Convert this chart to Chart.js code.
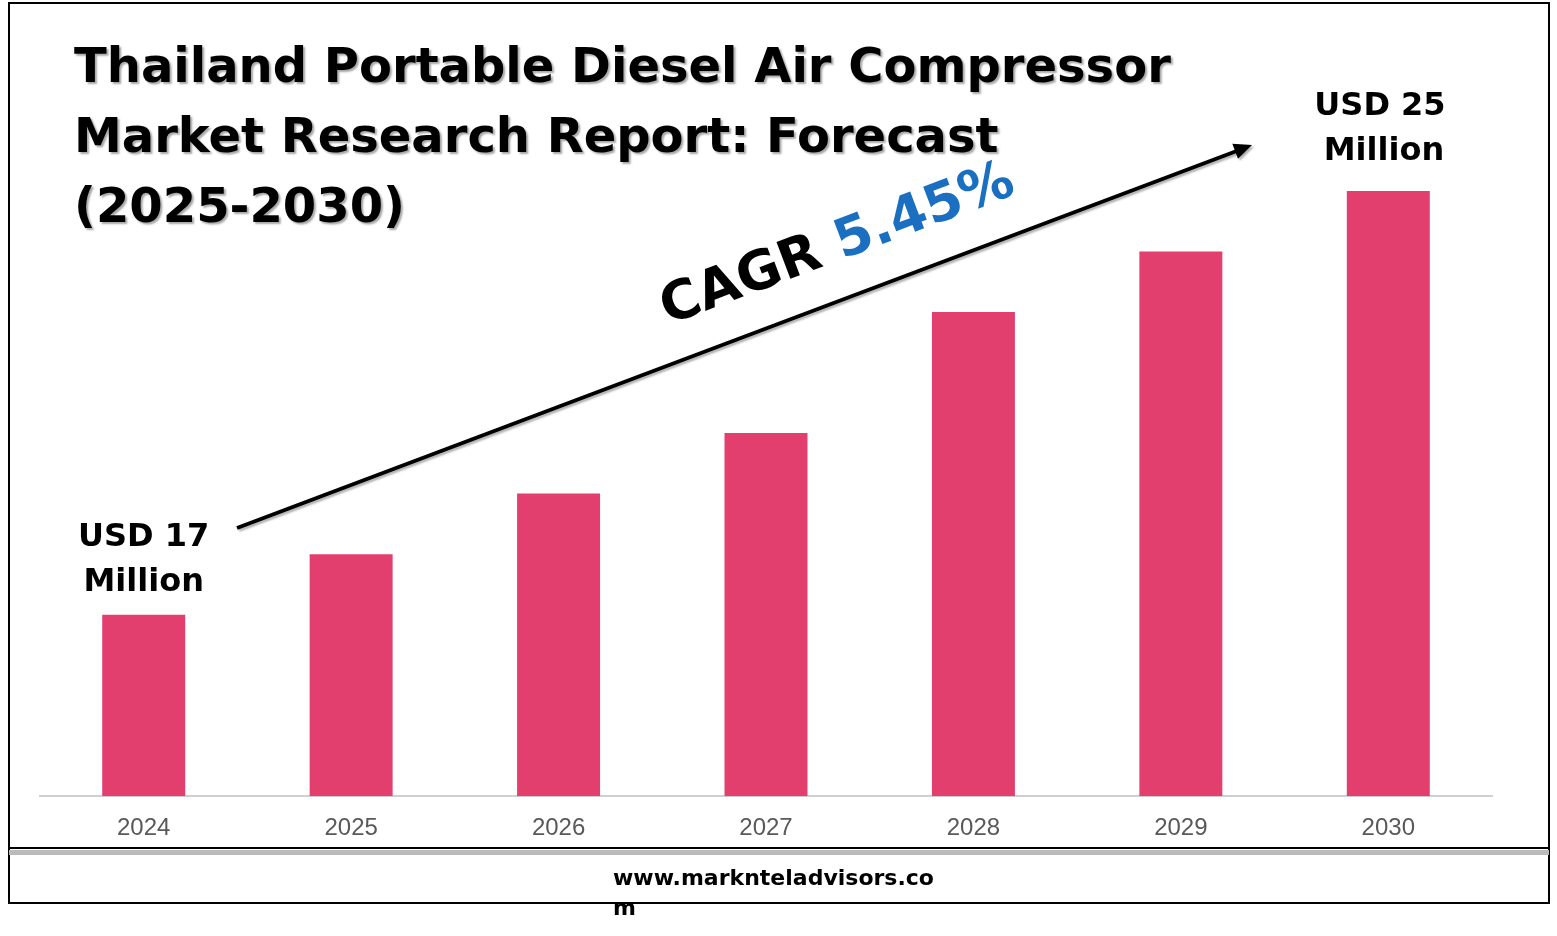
<!DOCTYPE html>
<html><head><meta charset="utf-8">
<script src="https://cdn.jsdelivr.net/npm/chart.js@4"></script>
<style>
body{margin:0;background:#fff;}
#wrap{position:absolute;left:0;top:0;width:1557px;height:936px;}
</style></head>
<body><div id="wrap"><canvas id="c" width="1557" height="936"></canvas></div>
<script>
const years = ['2024','2025','2026','2027','2028','2029','2030'];
const values = [3, 4, 5, 6, 8, 9, 10];
const titleLines = ['Thailand Portable Diesel Air Compressor', 'Market Research Report: Forecast', '(2025-2030)'];
const startLabel = ['USD 17', 'Million'];
const endLabel = ['USD 25', 'Million'];
const cagr = '5.45%';

const decor = {
  id: 'decor',
  beforeDraw(chart) {
    const ctx = chart.ctx;
    ctx.save();
    ctx.strokeStyle = '#000'; ctx.lineWidth = 2;
    ctx.strokeRect(9, 3, 1540, 900);
    ctx.restore();
  },
  afterDraw(chart) {
    const ctx = chart.ctx;
    ctx.save();
    // footer divider with shadow
    ctx.fillStyle = '#bbb'; ctx.fillRect(9, 850, 1540, 5);
    ctx.strokeStyle = '#000'; ctx.lineWidth = 2;
    ctx.beginPath(); ctx.moveTo(9, 848); ctx.lineTo(1549, 848); ctx.stroke();
    ctx.fillStyle = '#000';
    ctx.font = 'bold 22px "DejaVu Sans", sans-serif';
    ctx.textAlign = 'left'; ctx.textBaseline = 'alphabetic';
    ctx.fillText('www.marknteladvisors.co', 613, 885);
    ctx.fillText('m', 613, 915);
    // title
    ctx.font = 'bold 48px "DejaVu Sans", sans-serif';
    ctx.shadowColor = 'rgba(0,0,0,0.35)'; ctx.shadowOffsetX = 2; ctx.shadowOffsetY = 2; ctx.shadowBlur = 2;
    titleLines.forEach((t, i) => ctx.fillText(t, 74, 82 + i * 70));
    ctx.shadowColor = 'transparent';
    // value labels
    ctx.font = 'bold 32px "DejaVu Sans", sans-serif';
    ctx.textAlign = 'center';
    const x = chart.scales.x;
    ctx.fillText(startLabel[0], x.getPixelForValue(0), 546);
    ctx.fillText(startLabel[1], x.getPixelForValue(0), 591);
    ctx.fillText(endLabel[0], 1380, 115);
    ctx.fillText(endLabel[1], 1384, 160);
    // arrow
    const x1 = 237, y1 = 528, x2 = 1252, y2 = 145;
    ctx.lineWidth = 4; ctx.strokeStyle = '#000';
    ctx.shadowColor = 'rgba(0,0,0,0.3)'; ctx.shadowOffsetX = 2; ctx.shadowOffsetY = 2;
    ctx.beginPath(); ctx.moveTo(x1, y1); ctx.lineTo(x2 - 10, y2 + 4); ctx.stroke();
    const a = Math.atan2(y2 - y1, x2 - x1);
    ctx.beginPath(); ctx.moveTo(x2, y2);
    ctx.lineTo(x2 - 18 * Math.cos(a) + 8 * Math.sin(a), y2 - 18 * Math.sin(a) - 8 * Math.cos(a));
    ctx.lineTo(x2 - 18 * Math.cos(a) - 8 * Math.sin(a), y2 - 18 * Math.sin(a) + 8 * Math.cos(a));
    ctx.closePath(); ctx.fillStyle = '#000'; ctx.fill();
    ctx.shadowColor = 'transparent';
    // CAGR text
    ctx.translate(668, 325); ctx.rotate(a);
    ctx.textAlign = 'left';
    ctx.font = 'bold 54px "DejaVu Sans", sans-serif';
    ctx.fillStyle = '#000'; ctx.fillText('CAGR ', 0, 0);
    const w = ctx.measureText('CAGR ').width;
    ctx.fillStyle = '#1a6fc0'; ctx.fillText(cagr, w, 0);
    ctx.restore();
  }
};

new Chart(document.getElementById('c'), {
  type: 'bar',
  data: { labels: years, datasets: [{ data: values, backgroundColor: '#e23e6e', barPercentage: 0.8, categoryPercentage: 0.5 }] },
  options: {
    responsive: false, animation: false,
    layout: { padding: { left: 40, right: 65, top: 70, bottom: 75 } },
    plugins: { legend: { display: false }, tooltip: { enabled: false } },
    scales: {
      x: { grid: { display: false, drawTicks: false }, border: { color: '#d0d0d0', width: 2 },
           ticks: { color: '#595959', font: { size: 24, family: 'Liberation Sans' }, padding: 18 } },
      y: { display: false, min: 0, max: 12 }
    }
  },
  plugins: [decor]
});
</script></body></html>
